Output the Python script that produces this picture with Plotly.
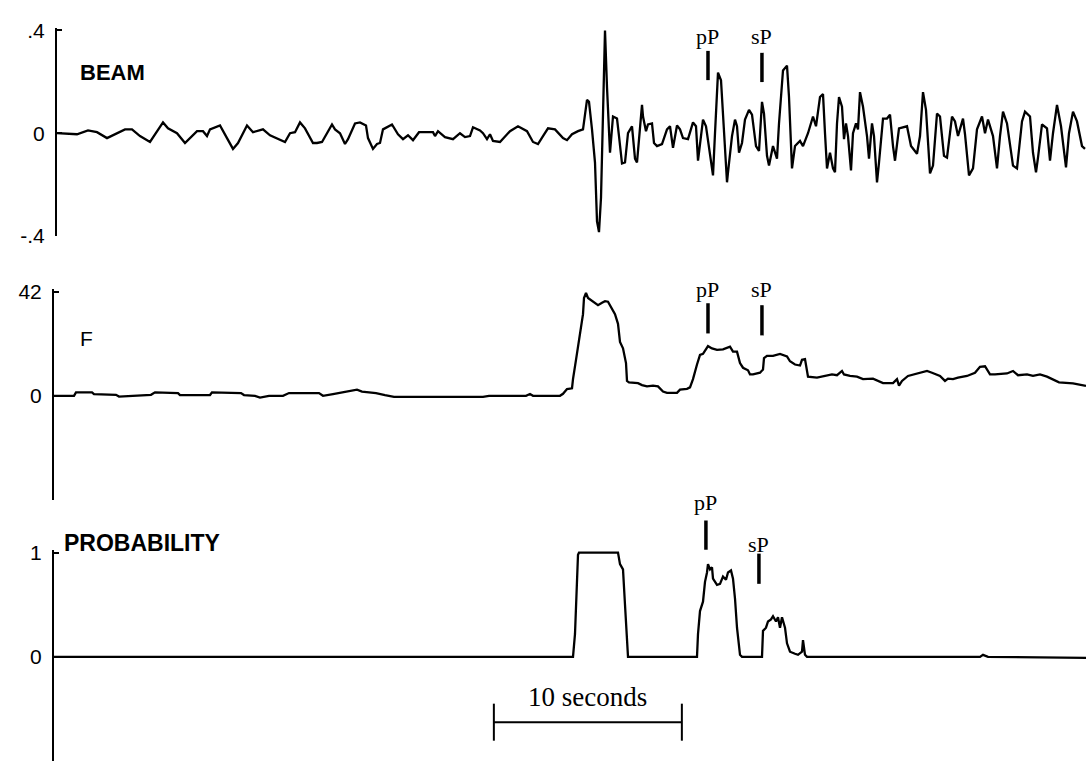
import plotly.graph_objects as go

# Sampling used to store the traces: sample index -> seconds
FS = 18.8

# ---- BEAM trace (sample index, amplitude) ----
BEAM_N = [4, 24, 35, 44, 54, 62, 72, 79, 87, 97, 102, 110, 115, 124, 132, 144, 150, 154, 157, 167,
          174, 180, 185, 194, 200, 210, 217, 224, 232, 237, 242, 247, 252, 260, 264, 269, 274, 279, 282, 287,
          292, 295, 302, 307, 313, 315, 320, 324, 327, 330, 339, 345, 350, 355, 360, 366, 380, 382, 385, 392,
          400, 407, 412, 417, 420, 427, 430, 434, 437, 440, 447, 457, 465, 474, 480, 485, 490, 495, 502, 510,
          514, 519, 525, 530, 534, 536, 539, 542, 544, 546, 548, 550, 552, 554, 557, 560, 564, 566, 569, 572,
          575, 579, 582, 584, 587, 589, 590, 593, 595, 599, 601, 604, 609, 614, 617, 620, 624, 627, 630, 635,
          640, 643, 645, 650, 653, 656, 660, 662, 665, 668, 670, 674, 675, 679, 682, 684, 686, 689, 692, 696,
          699, 703, 706, 709, 711, 714, 716, 720, 724, 726, 730, 734, 736, 739, 742, 747, 750, 755, 760, 763,
          767, 770, 772, 774, 777, 780, 782, 784, 786, 789, 791, 793, 795, 798, 800, 803, 805, 807, 810, 814,
          816, 819, 821, 824, 826, 830, 834, 837, 840, 842, 846, 854, 858, 864, 867, 870, 873, 877, 880, 884,
          887, 891, 894, 899, 902, 905, 910, 912, 916, 920, 924, 929, 932, 935, 940, 944, 947, 950, 954, 960,
          964, 969, 972, 977, 980, 983, 985, 989, 994, 997, 1000, 1004, 1008, 1013, 1016, 1020, 1024, 1029, 1032]
BEAM_V = [0, -0.004, 0.011, 0.004, -0.019, -0.004, 0.015, 0.015, -0.011, -0.034, -0.004, 0.042, 0.019, 0, -0.038, 0.008, 0.008, -0.011, 0.015, 0.030,
          -0.019, -0.061, -0.038, 0.030, 0.004, 0.015, -0.008, -0.019, -0.034, 0, 0.004, 0.042, 0.019, -0.038, -0.038, -0.034, 0, 0.034, 0.015, 0,
          -0.042, -0.023, 0.038, 0.042, 0.030, -0.019, -0.061, -0.042, -0.038, 0.015, 0.034, -0.004, -0.023, -0.008, -0.027, 0.004, 0.004, -0.011, 0.008, -0.015,
          -0.023, 0, -0.015, -0.011, 0.023, 0.011, 0, -0.023, -0.004, -0.030, -0.034, 0.008, 0.027, 0.008, -0.034, -0.042, -0.011, 0.019, 0.015, -0.019,
          -0.027, -0.004, 0.008, 0.015, 0.130, 0.122, 0.015, -0.114, -0.343, -0.385, -0.251, 0.114, 0.400, 0.179, -0.076, 0.065, 0.057, -0.011, -0.118, -0.114,
          0, 0.027, -0.099, -0.114, 0.038, 0.110, 0.065, 0.008, 0.034, 0.038, -0.038, -0.050, -0.042, 0.015, 0.027, -0.057, 0.030, 0.015, -0.019, -0.023,
          0.042, 0.027, -0.107, 0.053, 0.027, -0.050, -0.164, 0, 0.236, 0.206, 0.076, -0.191, -0.152, -0.011, 0.053, 0.027, -0.076, -0.038, 0.053, 0.091,
          0.072, -0.050, -0.069, 0.122, 0.076, -0.088, -0.126, -0.050, -0.099, 0.038, 0.244, 0.263, 0.141, -0.137, -0.050, -0.030, -0.050, 0, 0.065, 0.027,
          0.141, 0.152, 0, -0.137, -0.076, -0.137, -0.152, 0.038, 0.141, 0.103, -0.023, 0.038, -0.011, -0.145, 0, 0.038, 0.015, 0.160, 0.103, -0.011,
          -0.099, 0.038, -0.011, -0.191, -0.114, 0.057, 0.057, 0.072, -0.050, -0.107, 0.019, 0.027, -0.050, -0.080, -0.011, 0.160, 0.091, -0.156, -0.126, 0.076,
          0.065, -0.088, -0.095, 0.065, 0.046, -0.011, 0.057, -0.004, -0.164, -0.137, 0.015, 0.065, 0, 0.053, -0.011, -0.137, -0.011, 0.084, 0.038, -0.126,
          -0.137, 0.046, 0.084, 0.065, -0.076, -0.152, -0.095, 0.034, 0.019, -0.107, 0, 0.110, 0.027, -0.133, 0, 0.084, 0.046, -0.050, -0.061]

# ---- F statistic trace ----
F_N = [0, 21, 23, 39, 41, 63, 66, 98, 102, 125, 127, 157, 159, 188, 191, 202, 207, 216, 230, 236,
       266, 270, 280, 295, 304, 309, 323, 332, 341, 430, 436, 473, 477, 480, 487, 507, 510, 514, 519, 520,
       523, 525, 528, 530, 531, 533, 535, 539, 542, 545, 549, 552, 555, 558, 562, 565, 567, 570, 573, 574,
       576, 585, 589, 594, 600, 605, 610, 614, 624, 627, 634, 637, 640, 644, 647, 650, 655, 659, 664, 670,
       677, 680, 684, 687, 690, 695, 697, 700, 707, 710, 711, 714, 720, 727, 734, 737, 742, 747, 749, 752,
       754, 755, 764, 774, 779, 784, 789, 791, 797, 804, 810, 820, 830, 840, 844, 846, 849, 855, 864, 874,
       879, 887, 892, 895, 900, 905, 914, 922, 927, 932, 937, 942, 954, 960, 965, 974, 980, 987, 994, 1000,
       1006, 1020, 1033]
F_V = [0, 0, 1.4, 1.4, 0.7, 0.4, -0.3, 0.4, 1.4, 1.1, 0.3, 0.3, 1.4, 1.1, 0.3, 0, -0.7, 0, 0, 1.1,
       1.1, 0, 0.7, 1.7, 2.5, 1.7, 1.1, 0.3, -0.4, -0.4, 0, 0, 0.7, 0, 0, 0, 0.8, 2.7, 3.0, 6.7,
       14.5, 19.8, 26.3, 32.9, 39.4, 41.4, 39.4, 38.1, 37.5, 36.5, 37.5, 38.1, 37.9, 35.5, 32.9, 29.0, 21.7, 19.1, 13.2, 6.0,
       5.4, 5.1, 4.3, 3.8, 4.1, 3.8, 1.7, 1.2, 1.2, 2.5, 2.8, 3.4, 6.7, 12.6, 16.5, 16.9, 20.0, 19.1, 18.5, 18.7,
       19.8, 17.8, 17.8, 13.2, 11.3, 10.3, 8.6, 8.6, 9.3, 10.6, 15.2, 16.1, 16.1, 16.9, 15.9, 13.9, 12.6, 12.2, 14.5, 14.8,
       10.6, 7.7, 7.3, 8.0, 8.6, 8.3, 10.0, 8.6, 8.0, 7.7, 6.7, 6.9, 5.1, 5.1, 6.7, 4.1, 6.0, 8.0, 9.0, 10.0,
       9.3, 8.0, 6.0, 6.9, 6.7, 7.3, 8.0, 9.3, 11.7, 11.9, 8.6, 8.6, 9.0, 10.0, 8.3, 8.6, 8.0, 8.6, 7.7, 6.7,
       5.4, 5.0, 4.0]

# ---- Probability trace ----
P_N = [0, 520, 522, 524, 525, 526, 565, 567, 570, 572, 574, 575, 644, 645, 647, 650, 652, 654, 655, 657,
       659, 660, 664, 667, 670, 673, 675, 678, 680, 682, 684, 687, 689, 709, 710, 713, 715, 718, 720, 723,
       725, 727, 729, 732, 734, 737, 742, 745, 749, 750, 752, 754, 927, 930, 935, 1033]
P_V = [0, 0, 0.22, 0.69, 0.98, 1.0, 1.0, 0.89, 0.84, 0.5, 0.14, 0, 0, 0.22, 0.44, 0.53, 0.72, 0.81, 0.89, 0.84,
       0.86, 0.75, 0.69, 0.70, 0.77, 0.74, 0.81, 0.83, 0.75, 0.56, 0.28, 0.02, 0, 0, 0.25, 0.28, 0.34, 0.36, 0.39, 0.34,
       0.38, 0.28, 0.38, 0.28, 0.13, 0.05, 0.03, 0.02, 0.05, 0.16, 0.02, 0, 0, 0.02, 0, -0.01]

# Phase picks (seconds) per panel
PICK_LABELS = ["pP", "sP"]
PICK_T_BEAM = [34.84, 37.71]
PICK_T_F = [34.84, 37.71]
PICK_T_P = [34.73, 37.55]

SCALE_BAR_START = 23.45   # seconds
SCALE_BAR_LEN = 10        # seconds

W, H = 1086, 778
SANS = "Liberation Sans, Arial, Helvetica, sans-serif"
SERIF = "Liberation Serif, Times New Roman, serif"


def secs(ns):
    return [n / FS for n in ns]


def py(px):
    """Vertical pixel offset from the top -> paper coordinate."""
    return 1 - px / H


fig = go.Figure()
line = dict(color="black", width=2.3)
fig.add_trace(go.Scatter(x=secs(BEAM_N), y=BEAM_V, mode="lines", line=line, yaxis="y"))
fig.add_trace(go.Scatter(x=secs(F_N), y=F_V, mode="lines", line=line, yaxis="y2"))
fig.add_trace(go.Scatter(x=secs(P_N), y=P_V, mode="lines", line=line, yaxis="y3"))

x_end = 1033 / FS


def yax(top_px, bot_px, lo, hi, tvals, ttext, pos, pad=3):
    # a few pixels of headroom above the top tick so peaks at full scale are not clipped
    span = hi - lo
    per_px = span / (bot_px - top_px)
    return dict(domain=[py(bot_px), py(top_px - pad)], range=[lo, hi + pad * per_px],
                tickvals=tvals, ticktext=ttext,
                showline=True, linecolor="black", linewidth=2,
                ticks="inside", ticklen=5, tickwidth=2, tickcolor="black",
                showgrid=False, zeroline=False, anchor="free", position=pos,
                tickfont=dict(family=SANS, size=21, color="black"),
                ticklabelstandoff=6, fixedrange=True)


fig.update_layout(
    width=W, height=H, margin=dict(l=0, r=0, t=0, b=0),
    paper_bgcolor="white", plot_bgcolor="white", showlegend=False,
    xaxis=dict(domain=[53 / W, 1], range=[0, x_end], visible=False, fixedrange=True),
    yaxis=yax(22, 233, -0.4, 0.4, [-0.4, 0, 0.4], ["-.4", "0", ".4"], 56 / W),
    yaxis2=yax(290, 504, -42, 42, [-42, 0, 42], ["", "0", "42"], 53 / W),
    yaxis3=yax(558, 772, -1, 1, [-1, 0, 1], ["", "0", "1"], 53 / W),
)

# Panel titles
fig.add_annotation(text="<b>BEAM</b>", x=78 / W, y=py(65), xref="paper", yref="paper",
                   xanchor="left", yanchor="middle", showarrow=False,
                   font=dict(family=SANS, size=22, color="black"))
fig.add_annotation(text="F", x=78 / W, y=py(338), xref="paper", yref="paper",
                   xanchor="left", yanchor="middle", showarrow=False,
                   font=dict(family=SANS, size=21, color="black"))
fig.add_annotation(text="<b>PROBABILITY</b>", x=62 / W, y=py(548), xref="paper", yref="paper",
                   xanchor="left", yanchor="middle", showarrow=False,
                   font=dict(family=SANS, size=23, color="black"))

# Phase pick markers: label centre and bar extent (pixels from top) per panel
picks = [
    (PICK_T_BEAM, [28, 28], [43, 45], [73, 75]),
    (PICK_T_F, [288, 288], [302, 304], [333, 335]),
    (PICK_T_P, [507, 550], [525, 559], [555, 590]),
]
for times, ylab, ytop, ybot in picks:
    for lab, t, yl, yt, yb in zip(PICK_LABELS, times, ylab, ytop, ybot):
        fig.add_shape(type="line", xref="x", yref="paper", x0=t, x1=t, y0=py(yb), y1=py(yt),
                      line=dict(color="black", width=3.5))
        fig.add_annotation(text=lab, x=t, y=py(yl), xref="x", yref="paper", showarrow=False,
                           xanchor="center", yanchor="middle",
                           font=dict(family=SERIF, size=22, color="black"))

# Time scale bar
x0, x1 = SCALE_BAR_START, SCALE_BAR_START + SCALE_BAR_LEN
bar = dict(color="black", width=2)
fig.add_shape(type="line", xref="x", yref="paper", x0=x0, x1=x1, y0=py(732), y1=py(732), line=bar)
fig.add_shape(type="line", xref="x", yref="paper", x0=x0, x1=x0, y0=py(713), y1=py(751), line=bar)
fig.add_shape(type="line", xref="x", yref="paper", x0=x1, x1=x1, y0=py(713), y1=py(751), line=bar)
fig.add_annotation(text="10 seconds", x=(x0 + x1) / 2, y=py(706), xref="x", yref="paper",
                   showarrow=False, xanchor="center", yanchor="middle",
                   font=dict(family=SERIF, size=27, color="black"))

fig.write_html("out.html")
